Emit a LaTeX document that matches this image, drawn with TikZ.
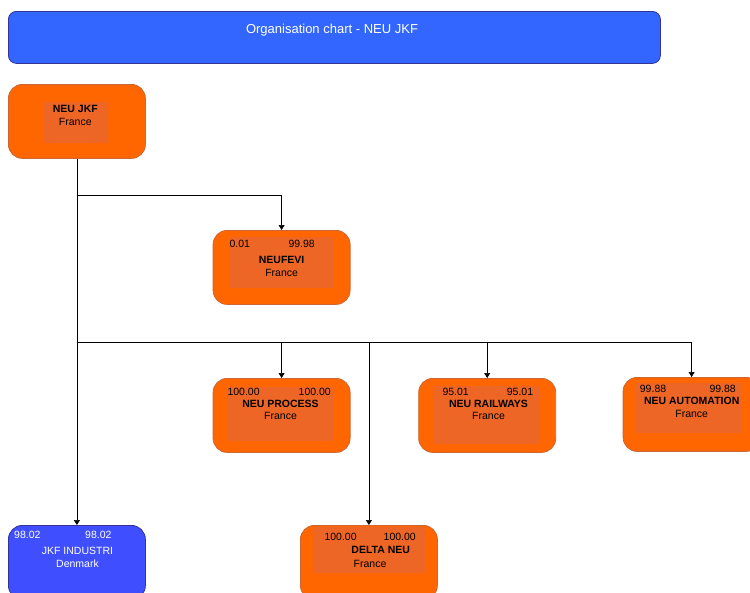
\documentclass[tikz,border=0pt]{standalone}
\usepackage{fontspec}
\setmainfont{Liberation Sans}
\usetikzlibrary{arrows.meta}
\definecolor{orfill}{HTML}{FF6600}
\definecolor{orinner}{HTML}{EE6625}
\definecolor{ordraw}{HTML}{CC6633}
\definecolor{titleblue}{HTML}{3366FF}
\definecolor{titledraw}{HTML}{333399}
\definecolor{boxblue}{HTML}{3F4FFF}
\begin{document}
\begin{tikzpicture}[x=1pt,y=-1pt,
  obox/.style={draw=ordraw, fill=orfill, rounded corners=14pt, line width=0.8pt,
    minimum width=137pt, minimum height=74pt, anchor=north west, inner sep=0pt},
  bbox/.style={draw=titledraw, fill=boxblue, rounded corners=14pt, line width=0.8pt,
    minimum width=137pt, minimum height=74pt, anchor=north west, inner sep=0pt},
  tbar/.style={draw=titledraw, fill=titleblue, rounded corners=8pt, line width=0.8pt,
    minimum width=652pt, minimum height=52pt, anchor=north west, inner sep=0pt},
  innerbox/.style={fill=orinner},
  txt/.style={inner sep=0pt, text height=7.5pt, text depth=0pt, font=\fontsize{10.5}{12}\selectfont},
  bname/.style={txt, font=\fontsize{10.5}{12}\selectfont\bfseries},
  wtxt/.style={txt, text=white},
  conn/.style={draw=black, line width=0.7pt},
  arr/.style={conn, -{Triangle[length=5pt,width=6pt]}}]
\useasboundingbox (0,0) rectangle (750,592);
\clip (0,0) rectangle (750,592);

% title
\node[tbar] (title) at (8,11) {};
\node[inner sep=0pt, text=white, font=\fontsize{13}{15}\selectfont] (titletxt) at (332,30) {Organisation chart - NEU JKF};

% boxes
\node[obox] (jkf) at (8,84) {};
\node[obox] (fevi) at (212.7,230) {};
\node[obox] (proc) at (212.7,378) {};
\node[obox] (rail) at (418.3,378) {};
\node[obox] (auto) at (622.7,377) {};
\node[bbox] (jkfi) at (8,525) {};
\node[obox] (delta) at (300,525) {};

% inner rectangles
\fill[innerbox] (43.3,101.7) rectangle (107.7,143.3);
\fill[innerbox] (229.3,237.3) rectangle (333.3,287.7);
\fill[innerbox] (227.3,386.7) rectangle (334,441);
\fill[innerbox] (432.7,386) rectangle (539.3,444);
\fill[innerbox] (636,383.3) rectangle (740.7,433.3);
\fill[innerbox] (312.7,527.3) rectangle (425,573.3);

% connectors
\coordinate (b1) at (76.5,195);
\coordinate (b2) at (76.5,342);
\draw[arr] (jkf.south) -- (jkfi.north);
\draw[arr] (b1) -| (fevi.north);
\draw[arr] (b2) -| (auto.north);
\draw[arr] (b2 -| proc.north) -- (proc.north);
\draw[arr] (b2 -| rail.north) -- (rail.north);
\draw[arr] (b2 -| delta.north) -- (delta.north);

% texts NEU JKF
\node[bname] (t1a) at (75.3,108.3) {NEU JKF};
\node[txt] (t1b) at (75.3,121.7) {France};
% NEUFEVI
\node[txt, anchor=west] (t2l) at (229.3,243.3) {0.01};
\node[txt, anchor=east] (t2r) at (315,243.3) {99.98};
\node[bname] (t2a) at (281.6,260) {NEUFEVI};
\node[txt] (t2b) at (281.6,272.7) {France};
% NEU PROCESS
\node[txt, anchor=west] (t3l) at (227.3,391.7) {100.00};
\node[txt, anchor=east] (t3r) at (331,391.7) {100.00};
\node[bname] (t3a) at (280.5,403.3) {NEU PROCESS};
\node[txt] (t3b) at (280.5,415.3) {France};
% NEU RAILWAYS
\node[txt, anchor=west] (t4l) at (442.3,392) {95.01};
\node[txt, anchor=east] (t4r) at (533.3,392) {95.01};
\node[bname] (t4a) at (488.5,403.3) {NEU RAILWAYS};
\node[txt] (t4b) at (488.5,415.3) {France};
% NEU AUTOMATION
\node[txt, anchor=west] (t5l) at (639.7,389) {99.88};
\node[txt, anchor=east] (t5r) at (736,389) {99.88};
\node[bname] (t5a) at (691.7,401) {NEU AUTOMATION};
\node[txt] (t5b) at (691.7,413.3) {France};
% JKF INDUSTRI
\node[wtxt, anchor=west] (t6l) at (14,534.3) {98.02};
\node[wtxt, anchor=east] (t6r) at (111.7,534.3) {98.02};
\node[wtxt] (t6a) at (77.5,551) {JKF INDUSTRI};
\node[wtxt] (t6b) at (77.5,563.3) {Denmark};
% DELTA NEU
\node[txt, anchor=west] (t7l) at (324.3,536.7) {100.00};
\node[txt, anchor=east] (t7r) at (416,536.7) {100.00};
\node[bname] (t7a) at (380.7,550) {DELTA NEU};
\node[txt] (t7b) at (370,563.3) {France};
\end{tikzpicture}
\end{document}
